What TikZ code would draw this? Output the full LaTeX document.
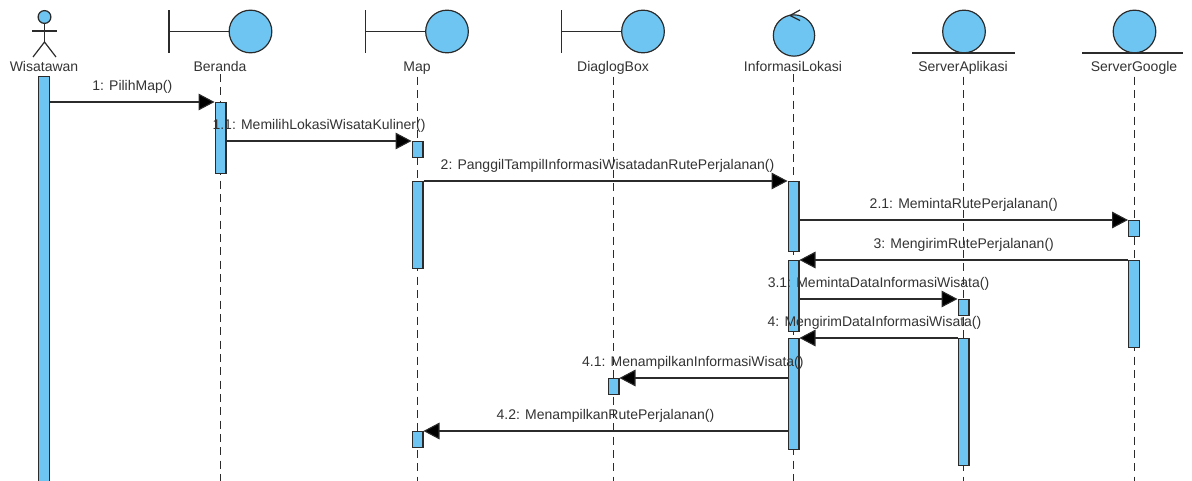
\documentclass[tikz,border=0pt]{standalone}
\usepackage{fontspec}
\setmainfont{Liberation Sans}
\usetikzlibrary{arrows.meta, positioning}
\definecolor{barblue}{HTML}{6EC5F1}
\definecolor{linegray}{HTML}{2B2B2B}
\definecolor{textgray}{HTML}{333333}

\begin{document}
\begin{tikzpicture}[x=0.75pt, y=-0.75pt, font=\fontsize{10.5}{12}\selectfont, text=textgray,
    icon/.style={draw=linegray, line width=0.9pt, fill=barblue},
    iconline/.style={draw=linegray, line width=0.9pt},
    lifename/.style={inner sep=0pt, anchor=base},
    lifeline/.style={draw=linegray, line width=0.6pt, dash pattern=on 6pt off 4pt},
    bar/.style={draw=linegray, line width=0.8pt, fill=barblue, minimum width=8.2pt, inner sep=0pt, anchor=north},
    msg/.style={draw=linegray, line width=0.8pt, -{Triangle[length=12pt, width=12.5pt, fill=black]}},
    msglabel/.style={midway, above=5.7pt, inner sep=0pt, text=textgray},
    ]

    \useasboundingbox (0,0) rectangle (1192,481);

    % Names
    \node[lifename] (wisatawan) at (44,71.5) {Wisatawan};
    \node[lifename] (beranda) at (220,71.5) {Beranda};
    \node[lifename] (map) at (417,71.5) {Map};
    \node[lifename] (dialog) at (613,71.5) {DiaglogBox};
    \node[lifename] (info) at (793,71.5) {InformasiLokasi};
    \node[lifename] (serverapp) at (963,71.5) {ServerAplikasi};
    \node[lifename] (servergoogle) at (1134,71.5) {ServerGoogle};

    % Lifelines
    \foreach \p/\x in {beranda/220, map/417, dialog/613, info/793, serverapp/963, servergoogle/1134} {
      \coordinate (\p end) at (\x,481);
      \draw[lifeline] ([yshift=-1.5pt]\p.south) -- (\p end);
    }

    % Actor
    \node[icon, circle, minimum size=9.6pt, inner sep=0pt] (head) at (44.5,17) {};
    \coordinate (hip) at (44.5,42);
    \draw[iconline] (head.south) -- (hip);
    \draw[iconline] (32,31) -- (57,31);
    \draw[iconline] (33,57) -- (hip) -- (56,57);

    % Boundaries
    \foreach \p/\x in {beranda/250.5, map/447, dialog/643} {
      \node[icon, circle, minimum size=32pt, inner sep=0pt] (\p icon) at (\x,31.5) {};
      \coordinate (\p wall) at (\x-81.5,31.5);
      \draw[iconline] (\p wall) -- (\p icon.west);
      \draw[iconline] ([yshift=16pt]\p wall) -- ([yshift=-16pt]\p wall);
    }

    % Control
    \node[icon, circle, minimum size=31pt, inner sep=0pt] (infoicon) at (794,35.5) {};
    \draw[iconline] (800,10) -- (790,15.5) -- (800,20.5);

    % Entities
    \node[icon, circle, minimum size=32pt, inner sep=0pt] (serverappicon) at (964,31.5) {};
    \draw[iconline] (912,53) -- (1015,53);
    \node[icon, circle, minimum size=32pt, inner sep=0pt] (servergoogleicon) at (1134.5,31.5) {};
    \draw[iconline] (1082,53) -- (1183,53);

    % Activation bars
    \node[bar, minimum height=304.5pt] (wisatawan1) at (44,76) {};
    \node[bar, minimum height=53pt] (beranda1) at (220.5,102) {};
    \node[bar, minimum height=12pt] (map1) at (417.5,141) {};
    \node[bar, minimum height=65pt] (map2) at (417.5,181) {};
    \node[bar, minimum height=12pt] (map3) at (417.5,431) {};
    \node[bar, minimum height=12pt] (dialog1) at (613.5,378) {};
    \node[bar, minimum height=52.5pt] (info1) at (793.5,181) {};
    \node[bar, minimum height=53pt] (info2) at (793.5,260) {};
    \node[bar, minimum height=83pt] (info3) at (793.5,338) {};
    \node[bar, minimum height=12pt] (serverapp1) at (963.5,299) {};
    \node[bar, minimum height=95pt] (serverapp2) at (963.5,338) {};
    \node[bar, minimum height=12pt] (servergoogle1) at (1134,220) {};
    \node[bar, minimum height=65pt] (servergoogle2) at (1134,260) {};

    % Messages
    \draw[msg] (wisatawan1.east |- beranda1.north) -- (beranda1.north west) node[msglabel] (m1) {1: PilihMap()};
    \draw[msg] (beranda1.east |- map1.north) -- (map1.north west) node[msglabel] (m11) {1.1: MemilihLokasiWisataKuliner()};
    \draw[msg] (map2.north east) -- (info1.north west) node[msglabel, xshift=1.5pt] (m2) {2: PanggilTampilInformasiWisatadanRutePerjalanan()};
    \draw[msg] (info1.east |- servergoogle1.north) -- (servergoogle1.north west) node[msglabel] (m21) {2.1: MemintaRutePerjalanan()};
    \draw[msg] (servergoogle2.north west) -- (info2.north east) node[msglabel] (m3) {3: MengirimRutePerjalanan()};
    \draw[msg] (info2.east |- serverapp1.north) -- (serverapp1.north west) node[msglabel] (m31) {3.1: MemintaDataInformasiWisata()};
    \draw[msg] (serverapp2.north west) -- (info3.north east) node[msglabel, xshift=-3pt] (m4) {4: MengirimDataInformasiWisata()};
    \draw[msg] (info3.west |- dialog1.north) -- (dialog1.north east) node[msglabel, xshift=-8pt] (m41) {4.1: MenampilkanInformasiWisata()};
    \draw[msg] (info3.west |- map3.north) -- (map3.north east) node[msglabel] (m42) {4.2: MenampilkanRutePerjalanan()};
\end{tikzpicture}
\end{document}
